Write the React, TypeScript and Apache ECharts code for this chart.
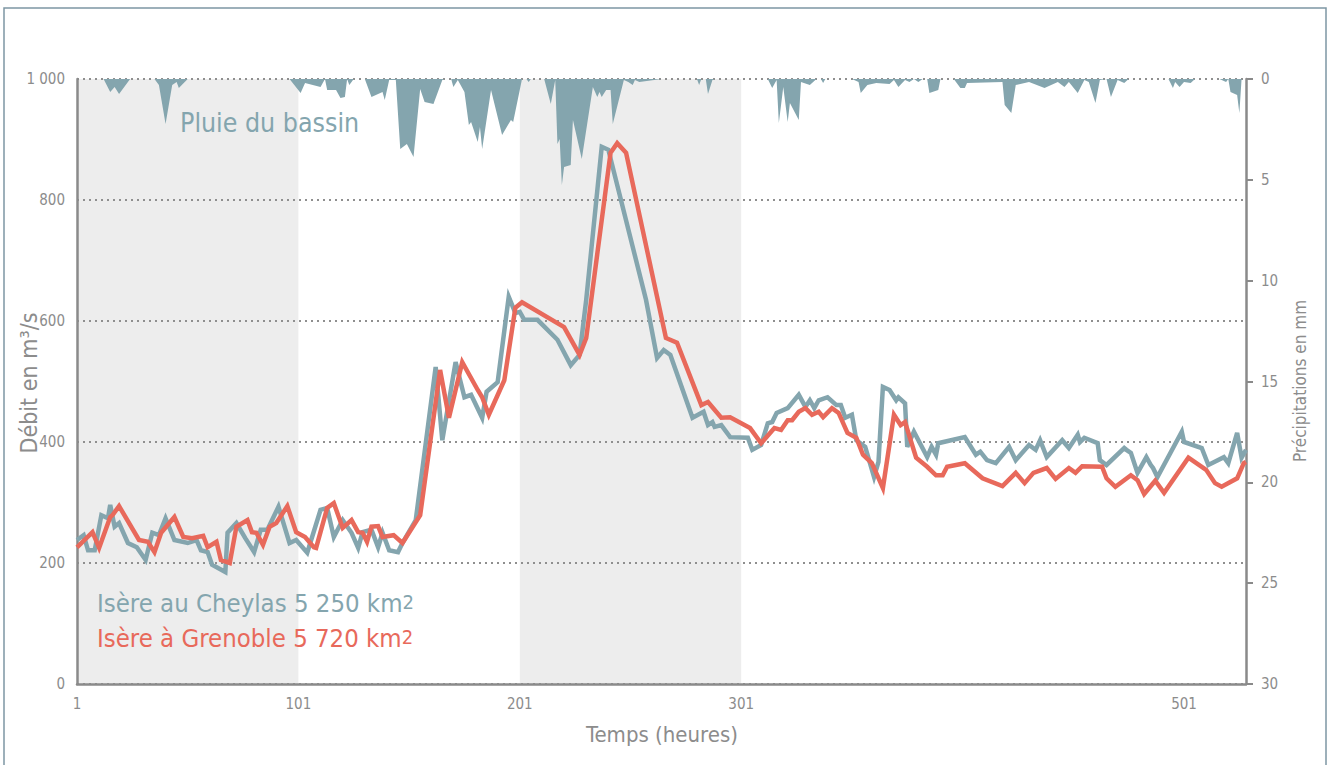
import React, { useEffect, useRef } from 'react';
import * as echarts from 'echarts';

const FONT = '"Liberation Sans Narrow", "DejaVu Sans Condensed", "Roboto", sans-serif';

const X_LABELS = [1, 101, 201, 301, 501];
const SHADED_PERIODS = [[1, 101], [201, 301]];

const CHEYLAS_HOURS = [
  1, 4, 6, 9, 12, 15, 16, 18, 20, 24,
  28, 32, 35, 38, 41, 45, 51, 55, 57, 60,
  62, 68, 69, 73, 77, 81, 84, 87, 92, 97,
  100, 105, 111, 114, 117, 121, 125, 128, 130, 134,
  137, 139, 142, 146, 148, 154, 163, 166, 172, 176,
  179, 184, 186, 191, 196, 199, 201, 203, 209, 218,
  224, 228, 231, 238, 241, 258, 263, 266, 269, 279,
  284, 286, 288, 289, 292, 296, 304, 306, 310, 313,
  315, 317, 322, 327, 330, 332, 334, 336, 340, 344,
  346, 348, 351, 353, 357, 361, 363, 365, 368, 371,
  372, 375, 376, 379, 385, 387, 389, 390, 402, 407,
  409, 412, 416, 422, 425, 431, 434, 436, 439, 446,
  449, 453, 454, 456, 462, 463, 466, 474, 475, 477,
  480, 484, 486, 487, 489, 500, 501, 509, 512, 519,
  521, 525, 527, 529,
];
const CHEYLAS_FLOW = [
  238, 246, 221, 221, 279, 274, 296, 260, 266, 233,
  226, 205, 250, 246, 274, 238, 233, 238, 221, 218,
  197, 185, 250, 266, 241, 218, 255, 255, 293, 233,
  238, 217, 288, 291, 243, 271, 250, 225, 251, 255,
  226, 250, 221, 218, 233, 271, 524, 403, 532, 474,
  478, 440, 483, 499, 640, 613, 615, 602, 602, 569,
  527, 544, 635, 888, 883, 635, 539, 552, 544, 440,
  450, 428, 433, 425, 428, 408, 407, 387, 395, 431,
  433, 448, 456, 478, 458, 469, 456, 469, 474, 461,
  461, 440, 445, 403, 392, 342, 367, 491, 486, 469,
  474, 464, 392, 417, 375, 392, 379, 398, 408, 379,
  384, 370, 365, 392, 370, 395, 387, 403, 375, 403,
  390, 412, 400, 407, 398, 370, 362, 390, 387, 382,
  349, 375, 362, 357, 342, 417, 400, 390, 362, 375,
  365, 415, 374, 387,
];

const GRENOBLE_HOURS = [
  1, 8, 11, 16, 17, 20, 29, 33, 36, 39,
  45, 49, 53, 58, 60, 64, 66, 70, 73, 78,
  80, 82, 85, 88, 91, 96, 100, 104, 108, 109,
  114, 117, 121, 125, 128, 130, 132, 134, 137, 139,
  144, 148, 156, 165, 169, 175, 182, 184, 187, 194,
  199, 202, 221, 228, 231, 242, 245, 249, 267, 272,
  283, 286, 292, 296, 305, 310, 316, 319, 322, 324,
  327, 330, 333, 336, 338, 342, 345, 349, 353, 356,
  360, 365, 370, 373, 375, 380, 385, 389, 392, 394,
  402, 410, 419, 425, 429, 433, 439, 443, 449, 452,
  455, 464, 466, 470, 477, 480, 483, 488, 492, 503,
  511, 515, 518, 525, 528, 529,
];
const GRENOBLE_FLOW = [
  226, 251, 225, 276, 279, 294, 238, 235, 218, 250,
  276, 243, 241, 245, 226, 235, 205, 200, 260, 271,
  251, 250, 230, 260, 266, 294, 251, 243, 226, 225,
  291, 299, 258, 271, 251, 250, 235, 260, 261, 243,
  246, 233, 279, 519, 440, 532, 486, 474, 445, 502,
  622, 631, 590, 544, 572, 878, 894, 878, 572, 564,
  461, 466, 440, 441, 423, 398, 423, 420, 436, 436,
  450, 456, 445, 450, 441, 456, 448, 415, 407, 379,
  365, 324, 445, 428, 433, 374, 359, 345, 345, 359,
  365, 340, 327, 349, 332, 349, 357, 339, 357, 349,
  360, 359, 340, 326, 345, 337, 314, 336, 316, 374,
  354, 332, 326, 340, 365, 367,
];

const RAIN_HOURS = [
  1, 13, 16, 18, 20, 25,
  36, 38, 41, 44, 46, 47, 51,
  97, 102, 104, 111, 113, 114, 118, 120, 122, 123, 124, 126,
  131, 134, 139, 140, 142, 145, 147, 150, 153, 156, 158, 162, 166, 167,
  170, 171, 173, 176, 178, 179, 182, 183, 184, 188, 193, 197, 198, 202,
  204, 205, 206,
  212, 215, 217, 218, 219, 220, 221, 224, 225, 229, 234, 236, 237, 238, 240, 242, 243, 248, 250, 252, 253, 255, 265,
  281, 282, 283, 285, 286, 288, 289,
  313, 315, 317, 318, 320, 322, 323, 327, 328, 332, 335,
  337, 338, 339,
  351, 354, 355, 358, 362, 368, 370, 372, 375, 377, 379, 381, 383,
  385, 386, 390, 391,
  397, 400, 402, 403, 419, 420, 423, 425, 431, 438, 444, 447, 449, 453, 456, 458, 461, 463, 466, 468, 471, 474, 476,
  494, 496, 497, 499, 501, 504, 506,
  517, 520, 521, 522, 525, 526, 527, 529,
];
const RAIN_MM = [
  0, 0, 0.64, 0.4, 0.74, 0,
  0, 0.3, 2.23, 0.3, 0.15, 0.45, 0,
  0, 0.69, 0.2, 0.4, 0, 0.55, 0.55, 0.94, 0.89, 0, 0.3, 0,
  0, 0.89, 0.64, 1.04, 0.05, 0.05, 3.47, 3.22, 3.87, 0.5, 1.14, 1.24, 0.05, 0,
  0, 0.4, 0.05, 0.64, 2.28, 2.13, 3.12, 2.38, 3.47, 0.55, 2.78, 2.03, 2.13, 0,
  0, 0.15, 0,
  0, 1.24, 0.05, 3.22, 2.98, 5.26, 4.36, 4.26, 2.03, 3.97, 0.4, 0.89, 0.64, 0.89, 0.55, 0.55, 2.23, 0.05, 0.15, 0.3, 0.05, 0.15, 0,
  0, 0.3, 0, 0, 0.74, 0.05, 0,
  0, 0.45, 0.05, 2.18, 0.4, 2.13, 1.19, 2.03, 0.15, 0.3, 0,
  0, 0.2, 0,
  0, 0.15, 0.69, 0.3, 0.2, 0.25, 0.05, 0.4, 0.05, 0.15, 0, 0.15, 0,
  0, 0.69, 0.55, 0,
  0, 0.45, 0.45, 0.2, 0.15, 1.29, 1.69, 0.3, 0.15, 0.45, 0.15, 0.4, 0.15, 0.69, 0.05, 0.15, 1.19, 0.05, 0, 0.89, 0.05, 0.2, 0,
  0, 0.45, 0.15, 0.4, 0.15, 0.2, 0,
  0, 0.15, 0, 0.64, 0.79, 1.69, 0, 0,
];

const zip = (xs: number[], ys: number[]) => xs.map((x, i) => [x, ys[i]]);

const GREY = '#84a5ae';
const RED = '#e8695b';
const AXIS_GREY = '#8a8a8a';
const LABEL_GREY = '#8c8c8c';

export default function App() {
  const ref = useRef<HTMLDivElement>(null);

  useEffect(() => {
    const chart = echarts.init(ref.current as HTMLDivElement, null, { renderer: 'svg' });
    const option: any = {
      animation: false,
      backgroundColor: '#ffffff',
      textStyle: { fontFamily: FONT },
      grid: { left: 77, right: 84, top: 79, bottom: 81, containLabel: false },
      xAxis: {
        type: 'value',
        min: 1,
        max: 529,
        interval: 100,
        z: 1,
        axisLine: { show: true, lineStyle: { color: AXIS_GREY, width: 2.5 } },
        axisTick: { show: false },
        splitLine: { show: false },
        axisLabel: {
          margin: 12,
          color: LABEL_GREY,
          fontSize: 15,
          fontFamily: FONT,
          showMaxLabel: false,
          formatter: (v: number) => (X_LABELS.includes(v) ? String(v) : ''),
        },
      },
      yAxis: [
        {
          type: 'value',
          min: 0,
          max: 1000,
          interval: 200,
          z: 1,
          axisLine: { show: true, lineStyle: { color: AXIS_GREY, width: 2.5 } },
          axisTick: { show: false },
          splitLine: { show: true, lineStyle: { color: '#8f8f8f', type: [2, 4], width: 2 } },
          axisLabel: {
            margin: 12,
            color: LABEL_GREY,
            fontSize: 15,
            fontFamily: FONT,
            formatter: (v: number) => String(v).replace(/\B(?=(\d{3})+(?!\d))/g, ' '),
          },
        },
        {
          type: 'value',
          min: 0,
          max: 30,
          interval: 5,
          inverse: true,
          position: 'right',
          z: 1,
          axisLine: { show: true, lineStyle: { color: AXIS_GREY, width: 2.5 } },
          axisTick: { show: true, inside: false, length: 7, lineStyle: { color: AXIS_GREY, width: 2 } },
          splitLine: { show: false },
          axisLabel: { margin: 15, color: LABEL_GREY, fontSize: 15, fontFamily: FONT },
        },
      ],
      series: [
        {
          type: 'custom',
          name: 'periods',
          z: 0,
          silent: true,
          xAxisIndex: 0,
          yAxisIndex: 0,
          data: SHADED_PERIODS,
          encode: { x: [0, 1] },
          renderItem: (_params: any, api: any) => {
            const start = api.coord([api.value(0), 1000]);
            const end = api.coord([api.value(1), 0]);
            return {
              type: 'rect',
              shape: { x: start[0], y: start[1], width: end[0] - start[0], height: end[1] - start[1] },
              style: { fill: '#ededed' },
            };
          },
        },
        {
          type: 'line',
          name: 'Pluie du bassin',
          yAxisIndex: 1,
          data: zip(RAIN_HOURS, RAIN_MM),
          symbol: 'none',
          z: 2,
          lineStyle: { width: 0, color: GREY },
          areaStyle: { color: GREY, opacity: 1 },
        },
        {
          type: 'line',
          name: 'Isère au Cheylas',
          yAxisIndex: 0,
          data: zip(CHEYLAS_HOURS, CHEYLAS_FLOW),
          symbol: 'none',
          z: 3,
          lineStyle: { width: 4.5, color: GREY, join: 'miter' },
        },
        {
          type: 'line',
          name: 'Isère à Grenoble',
          yAxisIndex: 0,
          data: zip(GRENOBLE_HOURS, GRENOBLE_FLOW),
          symbol: 'none',
          z: 4,
          lineStyle: { width: 4.5, color: RED, join: 'miter' },
        },
      ],
      graphic: [
        {
          type: 'rect',
          silent: true,
          z: 10,
          shape: { x: 4, y: 8, width: 1322, height: 800 },
          style: { fill: 'none', stroke: '#7d97a4', lineWidth: 1.5 },
        },
        {
          type: 'text',
          z: 10,
          x: 180,
          y: 122,
          style: { text: 'Pluie du bassin', fill: GREY, font: `26.5px ${FONT}`, verticalAlign: 'middle' },
        },
        {
          type: 'text',
          z: 10,
          x: 97,
          y: 603,
          style: {
            text: 'Isère au Cheylas 5 250 km{s|2}',
            fill: GREY,
            font: `25.5px ${FONT}`,
            verticalAlign: 'middle',
            rich: { s: { fontSize: 20, fontFamily: FONT, fill: GREY, padding: [0, 0, 3, 0] } },
          },
        },
        {
          type: 'text',
          z: 10,
          x: 97,
          y: 638,
          style: {
            text: 'Isère à Grenoble 5 720 km{s|2}',
            fill: RED,
            font: `25.5px ${FONT}`,
            verticalAlign: 'middle',
            rich: { s: { fontSize: 20, fontFamily: FONT, fill: RED, padding: [0, 0, 3, 0] } },
          },
        },
        {
          type: 'text',
          z: 10,
          x: 29,
          y: 383,
          rotation: Math.PI / 2,
          style: { text: 'Débit en m³/s', fill: LABEL_GREY, font: `23px ${FONT}`, align: 'center', verticalAlign: 'middle' },
        },
        {
          type: 'text',
          z: 10,
          x: 1300,
          y: 381,
          rotation: Math.PI / 2,
          style: { text: 'Précipitations en mm', fill: LABEL_GREY, font: `17px ${FONT}`, align: 'center', verticalAlign: 'middle' },
        },
        {
          type: 'text',
          z: 10,
          x: 662,
          y: 734,
          style: { text: 'Temps (heures)', fill: LABEL_GREY, font: `22px ${FONT}`, align: 'center', verticalAlign: 'middle' },
        },
      ],
    };
    chart.setOption(option);
    return () => chart.dispose();
  }, []);

  return (
    <div
      ref={ref}
      style={{ position: 'fixed', left: 0, top: 0, width: 1330, height: 765, background: '#ffffff' }}
    />
  );
}
